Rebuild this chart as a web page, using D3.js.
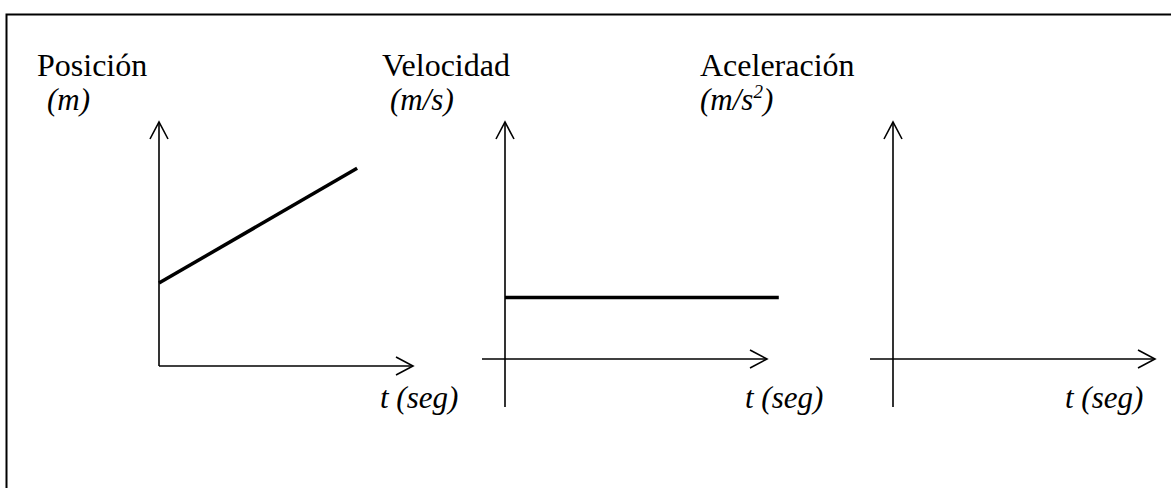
<!DOCTYPE html>
<html>
<head>
<meta charset="utf-8">
<script src="https://cdn.jsdelivr.net/npm/d3@7"></script>
<style>
  body { margin: 0; background: #fff; }
  svg { display: block; }
  text { font-family: "Liberation Serif", "Times New Roman", serif; fill: #000; }
</style>
</head>
<body>
<div id="chart"></div>
<script>
// panel titles and units
var titles = ["Posición", "Velocidad", "Aceleración"];
var units = ["(m)", "(m/s)", "(m/s"];
var timeLabel = "t (seg)";

// position vs time (m)
var posTime = [0, 7.8];
var posValues = [3.4, 8.1];

// velocity vs time (m/s)
var velTime = [0, 10.45];
var velValues = [2.6, 2.6];

// acceleration is zero, nothing drawn above the axis
var accTime = [];
var accValues = [];

var width = 1171, height = 488;

var svg = d3.select("#chart")
    .append("svg")
    .attr("width", width)
    .attr("height", height);

// arrow head (open V)
svg.append("defs").append("marker")
    .attr("id", "arrow")
    .attr("viewBox", "0 0 20 20")
    .attr("refX", 18)
    .attr("refY", 10)
    .attr("markerWidth", 20)
    .attr("markerHeight", 20)
    .attr("markerUnits", "userSpaceOnUse")
    .attr("orient", "auto")
    .append("path")
    .attr("d", "M1,1 L18,10 L1,19")
    .attr("fill", "none")
    .attr("stroke", "#000")
    .attr("stroke-width", 1.6);

// frame: only top and left edges are visible
svg.append("path")
    .attr("d", "M6.5," + height + " L6.5,14.5 L" + width + ",14.5")
    .attr("fill", "none")
    .attr("stroke", "#000")
    .attr("stroke-width", 2);

// layout of the three panels
var panels = [
    { ox: 159, oy: 366, xEnd: 413, yTop: 122, xStart: 159, yBottom: 366,
      titleX: 37, unitX: 47, tX: 380, time: posTime, values: posValues },
    { ox: 505, oy: 359, xEnd: 767, yTop: 122, xStart: 482, yBottom: 407,
      titleX: 382, unitX: 390, tX: 745, time: velTime, values: velValues },
    { ox: 893, oy: 359, xEnd: 1155, yTop: 122, xStart: 870, yBottom: 407,
      titleX: 700, unitX: 700, tX: 1065, time: accTime, values: accValues }
];

panels.forEach(function(p, i) {
    var x = d3.scaleLinear().domain([0, 10]).range([p.ox, p.xEnd]);
    var y = d3.scaleLinear().domain([0, 10]).range([p.oy, p.yTop]);

    var g = svg.append("g");

    // vertical axis
    g.append("line")
        .attr("x1", p.ox).attr("y1", p.yBottom)
        .attr("x2", p.ox).attr("y2", y(10))
        .attr("stroke", "#000")
        .attr("stroke-width", 1.6)
        .attr("marker-end", "url(#arrow)");

    // horizontal axis
    g.append("line")
        .attr("x1", p.xStart).attr("y1", p.oy)
        .attr("x2", x(10)).attr("y2", p.oy)
        .attr("stroke", "#000")
        .attr("stroke-width", 1.6)
        .attr("marker-end", "url(#arrow)");

    // data line
    if (p.time.length) {
        var line = d3.line()
            .x(function(d, j) { return x(p.time[j]); })
            .y(function(d) { return y(d); });
        g.append("path")
            .datum(p.values)
            .attr("d", line)
            .attr("fill", "none")
            .attr("stroke", "#000")
            .attr("stroke-width", 3.5);
    }

    // title
    g.append("text")
        .attr("x", p.titleX)
        .attr("y", 76)
        .style("font-size", "32px")
        .text(titles[i]);

    // unit
    var u = g.append("text")
        .attr("x", p.unitX)
        .attr("y", 110)
        .style("font-size", "31px")
        .style("font-style", "italic")
        .text(units[i]);
    if (i == 2) {
        u.append("tspan")
            .attr("dy", -12)
            .style("font-size", "19px")
            .text("2");
        u.append("tspan")
            .attr("dy", 12)
            .text(")");
    }

    // time label
    g.append("text")
        .attr("x", p.tX)
        .attr("y", 408)
        .style("font-size", "31px")
        .style("font-style", "italic")
        .text(timeLabel);
});
</script>
</body>
</html>
